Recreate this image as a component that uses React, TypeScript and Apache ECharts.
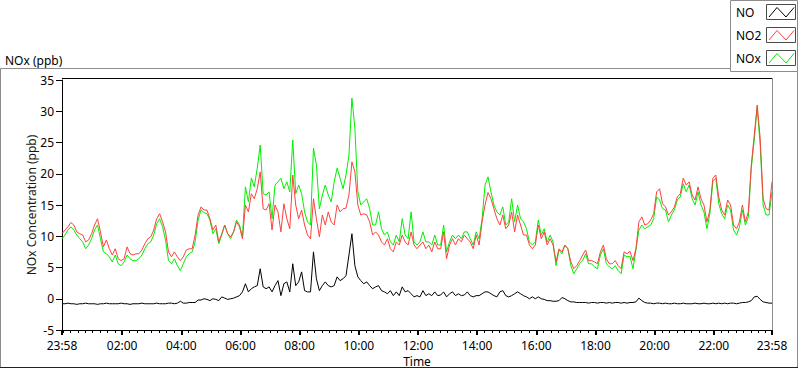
import { useEffect, useRef } from 'react';
import * as echarts from 'echarts';

const SAMPLE_STEP_MIN = 6;

const NO_VALUES = [
  -0.8, -0.8, -0.7, -0.8, -0.8, -0.9, -0.8, -0.8, -0.7, -0.8,
  -0.8, -0.8, -0.9, -0.8, -0.8, -0.7, -0.8, -0.8, -0.8, -0.8,
  -0.7, -0.8, -0.8, -0.9, -0.8, -0.8, -0.8, -0.7, -0.8, -0.8,
  -0.8, -0.8, -0.7, -0.8, -0.8, -0.8, -0.7, -0.7, -0.8, -0.7,
  -0.4, -0.7, -0.7, -0.6, -0.6, -0.6, -0.2, -0.2, 0, -0.1,
  -0.3, 0, -0.1, -0.3, 0.3, 0.1, -0.1, 0, 0.1, 0.3,
  0.5, 1.1, 2.4, 1.1, 1.6, 1.9, 2.1, 4.8, 1.9, 1.6,
  1.9, 1.1, 2.1, 2.9, 0.5, 2.4, 2.7, 1.1, 5.6, 2.1,
  2.7, 4.3, 1.3, 1.1, 1.1, 7.5, 3.2, 1.3, 2.1, 2.7,
  2.1, 1.9, 2.1, 3.5, 2.9, 3.2, 3.7, 7, 10.4, 5.3,
  3.5, 2.9, 2.4, 2.7, 2.1, 1.6, 1.9, 2.1, 1.3, 1.1,
  0.8, 1.3, 0.5, 1.1, 0.5, 1.9, 1.1, 1.3, 0.8, 0.3,
  0.5, 0.3, 1.3, 0.5, 0.8, 0.5, 1.1, 0.5, 0.6, 1.1,
  0.3, 0.8, 1.1, 0.5, 0.8, 0.5, 0.6, 1.1, 0.5, 0.3,
  0.5, 0.5, 0.8, 1.1, 1.1, 0.8, 0.5, 0.3, 1.1, 1.3,
  0.5, 0.3, 0.5, 0.8, 1.1, 0.8, 0.5, 0.3, 0, 0.3,
  0, 0.3, 0, -0.1, -0.3, -0.3, -0.4, -0.4, -0.3, 0.2,
  0, -0.3, -0.5, -0.5, -0.6, -0.6, -0.6, -0.6, -0.7, -0.6,
  -0.6, -0.7, -0.6, -0.6, -0.7, -0.6, -0.7, -0.6, -0.6, -0.7,
  -0.6, -0.7, -0.6, -0.6, -0.5, 0.1, -0.3, -0.6, -0.7, -0.7,
  -0.8, -0.7, -0.7, -0.8, -0.7, -0.8, -0.8, -0.7, -0.8, -0.8,
  -0.7, -0.8, -0.8, -0.8, -0.7, -0.8, -0.8, -0.7, -0.8, -0.8,
  -0.7, -0.8, -0.7, -0.8, -0.7, -0.8, -0.7, -0.7, -0.8, -0.7,
  -0.6, -0.6, -0.5, -0.3, 0.3, 0.4, -0.1, -0.5, -0.6, -0.7, -0.7,
];

const NO2_VALUES = [
  10.4, 11, 11.5, 12.2, 11.8, 10.7, 10.4, 10.2, 9.1, 9.4,
  10.4, 11.8, 12.8, 10.7, 8.3, 9.4, 8, 7, 8, 6.4,
  6.1, 6.4, 8.3, 7.2, 7, 7.2, 7.2, 7.8, 8.8, 9.6,
  9.9, 11, 12.8, 13.6, 12.3, 10.7, 7.5, 6.7, 7.5, 6.7,
  6.1, 6.7, 7.8, 8, 8, 10.2, 13.4, 14.7, 14.2, 14.2,
  12.8, 11, 11.8, 9.1, 10.4, 11.8, 10.4, 9.9, 10.7, 12.3,
  11.5, 9.6, 15, 13.9, 16.8, 16, 17.6, 20.3, 14.4, 14.2,
  15.2, 11, 15, 13.9, 10.7, 15.2, 12.8, 11.2, 19.8, 15,
  12.8, 14.2, 11.8, 10.2, 9.6, 16, 12.8, 9.9, 13.4, 11.8,
  13.9, 12.3, 11.8, 15, 13.9, 14.4, 14.5, 16.6, 21.9, 20.3,
  15, 13.4, 13.6, 13.4, 12.3, 10.2, 10.7, 10.2, 9.1, 8.6,
  9.6, 8, 7.5, 9.1, 8.6, 10.2, 9.1, 8.6, 10.7, 8.6,
  8, 8.6, 9.1, 8, 8.6, 7.5, 9.1, 8, 8, 10.7,
  6.4, 8.6, 9.6, 8.6, 9.6, 9.1, 10.2, 9.6, 9.1, 8,
  10.2, 8.6, 12.3, 15, 17, 16, 14.4, 12.8, 11.8, 13.4,
  11.2, 11.8, 13.9, 10.7, 13.4, 11.8, 10.2, 10.2, 8.6, 8,
  8.6, 11.8, 9.6, 10.7, 8.6, 9.6, 8.6, 5.9, 8, 7.5,
  8.6, 8, 5.9, 4.8, 5.3, 6.1, 7, 7.8, 6.1, 6.1,
  5.9, 5.6, 7.5, 8.6, 6.4, 5.6, 5.6, 6.1, 5.3, 4.8,
  7.5, 7.2, 7.6, 6.1, 8, 12.3, 13.1, 11.8, 12, 12.6,
  13.6, 17.1, 17.6, 15.2, 14.7, 13.4, 13.9, 14.7, 16.3, 16.8,
  19.3, 18.2, 18.7, 16.6, 15.8, 17.9, 16, 15, 12.3, 14.2,
  19.3, 19.8, 16.3, 14.2, 13.4, 15.8, 15, 11.8, 11.2, 12.3,
  15, 12.3, 13.9, 21.4, 26.2, 31, 25.7, 16, 14.4, 14.2, 18.7,
];

const NOX_VALUES = [
  9.6, 10.2, 11, 11.5, 11, 10.2, 9.6, 9.1, 8, 8.6,
  9.6, 11, 11.8, 9.6, 7.5, 7.2, 6.7, 5.9, 7, 5.6,
  5.3, 5.9, 7, 6.4, 6.1, 6.1, 6.4, 7, 8, 8.8,
  9.1, 10.2, 12, 12.8, 11.5, 9.4, 6.1, 5.6, 6.4, 5.3,
  4.5, 5.6, 6.7, 7.2, 7.5, 9.1, 12.6, 14.2, 13.8, 13.6,
  12.6, 10.4, 11.2, 8.8, 10.2, 11.8, 10.4, 9.6, 10.7, 12.6,
  11.8, 9.9, 17.9, 15.5, 19.3, 17.9, 20.9, 24.6, 16.8, 16.6,
  17.1, 12.8, 18.2, 18.7, 19.3, 17.6, 18.7, 17.1, 25.4, 16.8,
  18.2, 16.8, 13.9, 12.3, 11.8, 24.1, 21.4, 14.4, 16.6, 18.2,
  16.6, 15.5, 18.7, 20.9, 19.3, 17.6, 19.8, 23, 32.1, 27.3,
  17.1, 15, 15.5, 16, 14.4, 11.8, 11.8, 13.9, 11.2, 10.2,
  10.7, 9.1, 8.6, 10.2, 9.1, 12.8, 10.2, 9.6, 13.9, 9.1,
  8.6, 9.1, 10.7, 9.1, 9.1, 8.6, 10.2, 8.6, 8.6, 11.8,
  7.5, 9.1, 10.2, 9.6, 10.2, 9.6, 10.7, 10.7, 9.6, 8.6,
  10.7, 9.6, 12.8, 18.2, 19.5, 17.1, 15, 13.9, 13.4, 14.7,
  11.8, 12.3, 16, 12.3, 15, 12.8, 12.3, 11.2, 9.1, 8.6,
  9.1, 12.6, 10.2, 11.2, 9.1, 10.2, 9.1, 5.3, 7.8, 7.2,
  8.6, 8, 5.3, 4, 4.8, 5.6, 6.1, 7.2, 5.6, 5.6,
  5.1, 4.8, 7, 8, 5.6, 5.1, 4.8, 5.3, 4.5, 4,
  7, 6.7, 6.8, 4.8, 7.8, 11, 11.8, 11.2, 11.5, 11.8,
  12.8, 16.3, 15.8, 14.4, 14.2, 12.3, 13.4, 14.2, 15.8, 16.3,
  18.4, 17.1, 18.2, 16, 15, 17.1, 15, 13.9, 11.2, 13.6,
  18.7, 19.3, 15.2, 13.6, 12.8, 15, 14.2, 11, 10.2, 11.5,
  14.2, 11.8, 13.1, 20.9, 25.4, 30.7, 24.6, 15, 13.4, 13.4, 17.1,
];

const SERIES_NAMES = ['NO', 'NO2', 'NOx'];
const SERIES_COLORS = ['#000000', '#ff4040', '#00ee00'];

// x axis: minutes after 23:58
const X_MIN = 0;
const X_MAX = 1440;
const X_MAJOR_TICKS = [0, 122, 242, 362, 482, 602, 722, 842, 962, 1082, 1202, 1322, 1440];
const X_MAJOR_LABELS = ['23:58', '02:00', '04:00', '06:00', '08:00', '10:00', '12:00', '14:00', '16:00', '18:00', '20:00', '22:00', '23:58'];
const X_MINOR_STEP = 15;
const X_MINOR_START = 2;

const Y_MIN = -5;
const Y_MAX = 35;
const Y_INTERVAL = 5;

const FONT = '"Noto Sans", "Open Sans", sans-serif';

const toPairs = (vals: number[]) => vals.map((v, i) => [i * SAMPLE_STEP_MIN, v]);

export default function App() {
  const ref = useRef<HTMLDivElement>(null);

  useEffect(() => {
    if (!ref.current) return;
    const chart = echarts.init(ref.current, undefined, { renderer: 'svg' });

    const minorTicks: number[] = [];
    for (let t = X_MINOR_START; t < X_MAX; t += X_MINOR_STEP) {
      if (!X_MAJOR_TICKS.includes(t)) minorTicks.push(t);
    }

    const legendRows = [0, 1, 2].map((k) => {
      const top = 4.5 + k * 23;
      return [
        {
          type: 'text',
          x: 736,
          y: top + 8,
          silent: true,
          style: {
            text: SERIES_NAMES[k],
            fill: '#000',
            fontSize: 12,
            fontFamily: FONT,
            align: 'left',
            verticalAlign: 'middle',
          },
        },
        {
          type: 'rect',
          silent: true,
          shape: { x: 766.5, y: top, width: 29, height: 15 },
          style: { fill: '#ffffff', stroke: '#4a4a4a', lineWidth: 1 },
        },
        {
          type: 'polyline',
          silent: true,
          shape: {
            points: [
              [769, top + 12.5],
              [777, top + 3],
              [786, top + 12.5],
              [794, top + 3],
            ],
          },
          style: { stroke: SERIES_COLORS[k], lineWidth: 1, fill: 'none' },
        },
      ];
    }).flat();

    const option: any = {
      animation: false,
      backgroundColor: '#ffffff',
      textStyle: { fontFamily: FONT },
      grid: { left: 62, right: 28, top: 80, bottom: 39, containLabel: false, outerBoundsMode: 'none' },
      xAxis: [
        {
          type: 'value',
          min: X_MIN,
          max: X_MAX,
          name: 'Time',
          nameLocation: 'middle',
          nameGap: 24,
          nameMoveOverlap: false,
          nameTextStyle: { color: '#000', fontSize: 12, fontFamily: FONT, lineHeight: 14, verticalAlign: 'top' },
          axisLine: { show: true, onZero: false, lineStyle: { color: '#000', width: 1 } },
          axisTick: {
            show: true,
            customValues: X_MAJOR_TICKS,
            length: 5,
            lineStyle: { color: '#000', width: 2 },
          },
          axisLabel: {
            show: true,
            customValues: X_MAJOR_TICKS,
            margin: 9,
            color: '#000',
            fontSize: 12,
            lineHeight: 12,
            fontFamily: FONT,
            showMinLabel: true,
            showMaxLabel: true,
            formatter: (v: number) => {
              const idx = X_MAJOR_TICKS.indexOf(Math.round(v));
              return idx >= 0 ? X_MAJOR_LABELS[idx] : '';
            },
          },
          splitLine: { show: false },
        },
        {
          type: 'value',
          min: X_MIN,
          max: X_MAX,
          position: 'bottom',
          axisLine: { show: false, onZero: false },
          axisTick: {
            show: true,
            customValues: minorTicks,
            length: 3,
            lineStyle: { color: '#000', width: 1 },
          },
          axisLabel: { show: false },
          splitLine: { show: false },
        },
      ],
      yAxis: {
        type: 'value',
        min: Y_MIN,
        max: Y_MAX,
        interval: Y_INTERVAL,
        name: 'NOx Concentration (ppb)',
        nameLocation: 'middle',
        nameGap: 24,
        nameMoveOverlap: false,
        nameRotate: 90,
        nameTextStyle: { color: '#1a1a1a', fontSize: 12, fontFamily: FONT, lineHeight: 14 },
        axisLine: { show: true, onZero: false, lineStyle: { color: '#000', width: 1 } },
        axisTick: { show: true, length: 6, lineStyle: { color: '#000' } },
        axisLabel: { color: '#000', fontSize: 12, lineHeight: 12, fontFamily: FONT, margin: 8 },
        splitLine: { show: false },
      },
      series: [
        {
          name: SERIES_NAMES[0],
          type: 'line',
          xAxisIndex: 0,
          data: toPairs(NO_VALUES),
          showSymbol: false,
          symbol: 'none',
          lineStyle: { color: SERIES_COLORS[0], width: 1 },
          itemStyle: { color: SERIES_COLORS[0] },
          z: 2,
        },
        {
          name: SERIES_NAMES[2],
          type: 'line',
          xAxisIndex: 0,
          data: toPairs(NOX_VALUES),
          showSymbol: false,
          symbol: 'none',
          lineStyle: { color: SERIES_COLORS[2], width: 1 },
          itemStyle: { color: SERIES_COLORS[2] },
          z: 3,
        },
        {
          name: SERIES_NAMES[1],
          type: 'line',
          xAxisIndex: 0,
          data: toPairs(NO2_VALUES),
          showSymbol: false,
          symbol: 'none',
          lineStyle: { color: SERIES_COLORS[1], width: 1 },
          itemStyle: { color: SERIES_COLORS[1] },
          z: 4,
        },
      ],
      graphic: [
        // outer frame
        {
          type: 'rect',
          silent: true,
          z: -10,
          shape: { x: 0.5, y: 68.5, width: 797, height: 299 },
          style: { fill: 'none', stroke: '#8c8c8c', lineWidth: 1 },
        },
        {
          type: 'line',
          silent: true,
          shape: { x1: 0, y1: 367.5, x2: 798, y2: 367.5 },
          style: { stroke: '#222', lineWidth: 1 },
        },
        // plot frame top and right
        {
          type: 'line',
          silent: true,
          shape: { x1: 62, y1: 78.5, x2: 772, y2: 78.5 },
          style: { stroke: '#000', lineWidth: 1 },
        },
        {
          type: 'line',
          silent: true,
          shape: { x1: 772.5, y1: 78, x2: 772.5, y2: 330 },
          style: { stroke: '#8c8c8c', lineWidth: 1 },
        },
        {
          type: 'text',
          x: 5,
          y: 60,
          silent: true,
          style: {
            text: 'NOx (ppb)',
            fill: '#000',
            fontSize: 12,
            fontFamily: FONT,
            align: 'left',
            verticalAlign: 'middle',
          },
        },
        // legend box
        {
          type: 'rect',
          silent: true,
          shape: { x: 730.5, y: 0.5, width: 67, height: 71 },
          style: { fill: '#ffffff', stroke: '#8c8c8c', lineWidth: 1 },
        },
        ...legendRows,
      ],
    };

    chart.setOption(option);
    return () => chart.dispose();
  }, []);

  return (
    <div
      ref={ref}
      style={{ position: 'fixed', left: 0, top: 0, width: 800, height: 369, background: '#fff' }}
    />
  );
}
